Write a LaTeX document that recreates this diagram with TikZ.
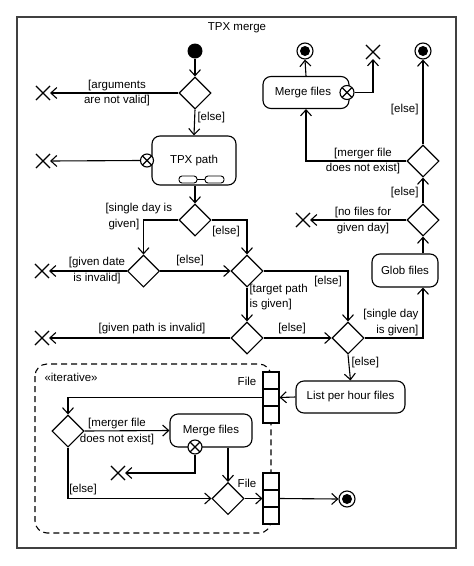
\documentclass[tikz,border=0pt]{standalone}
\usepackage{fontspec}
\setmainfont{Liberation Sans}
\usetikzlibrary{arrows.meta,shapes.geometric,shapes.misc}
\begin{document}
\begin{tikzpicture}[x=1pt,y=-1pt, line width=1.1pt, font=\fontsize{11.5}{15.5}\selectfont,
 dec/.style={diamond, draw, minimum width=32pt, minimum height=32pt, inner sep=0pt},
 act/.style={rectangle, rounded corners=8pt, draw, inner sep=0pt},
 ffinal/.style={cross out, draw, minimum size=13pt, inner sep=0pt},
 afinal/.style={circle, draw, minimum size=16pt, inner sep=0pt, path picture={\fill (path picture bounding box.center) circle (5pt);}},
 epin/.style={circle, draw, fill=white, minimum size=13pt, inner sep=0pt, path picture={\draw (path picture bounding box.north west) -- (path picture bounding box.south east) (path picture bounding box.north east) -- (path picture bounding box.south west);}},
 pincell/.style={rectangle, draw, fill=white, minimum width=16pt, minimum height=17pt, inner sep=0pt},
 arr/.style={-{Straight Barb[length=6pt,width=11pt]}},
 lbl/.style={inner sep=0pt, align=center},
]
\useasboundingbox (0,0) rectangle (474,566);
% frame
\draw[line width=1.4pt, black!75] (17,17) rectangle (456,548);
\node[lbl] (title) at (237,28) {TPX merge};

% nodes
\node[circle, fill, minimum size=15pt, inner sep=0pt] (init) at (195,51) {};
\node[dec] (d1) at (195,93) {};
\node[ffinal] (x1) at (43,93) {};
\node[act, minimum width=84pt, minimum height=49pt] (tpx) at (194,160.5) {TPX path};
\node[epin] (e1) at (147,160.5) {};
\node[ffinal] (x2) at (43,161) {};
\node[dec] (d2) at (195,220) {};
\node[dec] (d3) at (143.5,271) {};
\node[dec] (d4) at (247,271) {};
\node[ffinal] (x3) at (42,271) {};
\node[dec] (d5) at (247,338) {};
\node[dec] (d6) at (348,338) {};
\node[ffinal] (x4) at (42,338) {};
\node[act, minimum width=66pt, minimum height=33pt] (glob) at (405,270.5) {Glob files};
\node[dec] (d7) at (423,220) {};
\node[ffinal] (x5) at (303,220) {};
\node[dec] (d8) at (423,161) {};
\node[act, minimum width=86pt, minimum height=32pt] (mf1) at (306,92.5) {\hspace*{-6pt}Merge files};
\node[epin, minimum size=14pt] (e2) at (347,92.5) {};
\node[ffinal] (x6) at (373,52) {};
\node[afinal] (f1) at (305,51) {};
\node[afinal] (f2) at (423,51) {};
\node[act, minimum width=109pt, minimum height=32pt] (list) at (350.5,397) {List per hour files};

% iterative region
\draw[dashed, dash pattern=on 6pt off 4pt, rounded corners=12pt] (35,364) rectangle (271,533);
\node[lbl, anchor=west] (iter) at (44,377) {«iterative»};

\node[pincell] (p1a) at (271,380.5) {};
\node[pincell] (p1b) at (271,397.5) {};
\node[pincell] (p1c) at (271,414.5) {};
\node[pincell] (p2a) at (271,481.5) {};
\node[pincell] (p2b) at (271,498.5) {};
\node[pincell] (p2c) at (271,515.5) {};
\node[lbl] (file1) at (247,381) {File};
\node[lbl] (file2) at (247,483) {File};

\node[dec] (d9) at (68,431) {};
\node[act, minimum width=82pt, minimum height=33pt] (mf2) at (211,430.5) {Merge files};
\node[epin, minimum size=14pt] (e3) at (195,447) {};
\node[ffinal] (x7) at (118,473) {};
\node[dec] (d10) at (228,498.5) {};
\node[afinal] (f3) at (347,499) {};

% rake icon
\draw[line width=0.9pt, rounded corners=3pt] (179,176) rectangle (197,183);
\draw[line width=0.9pt, rounded corners=3pt] (205,176) rectangle (224,183);
\draw[line width=0.9pt] (197,179.5) -- (205,179.5);

% connectors
\draw[arr] (init) -- (d1.north);
\draw[arr] (d1.west) -- (x1.east);
\node[lbl] at (117,93) {[arguments\\are not valid]};
\draw[arr] (d1.south) -- (tpx.north);
\node[lbl, anchor=west] at (197,118) {[else]};
\draw[arr] (e1.west) -- (x2.east);
\draw[arr] (tpx.south -| d2) -- (d2.north);
\draw[arr] (d2.west) -| (d3.north);
\node[lbl, align=left, anchor=west] at (105,216.5) {[single day is\\\hspace*{3pt}given]};
\draw[arr] (d2.east) -| (d4.north);
\node[lbl] at (226,232) {[else]};
\draw[arr] (d3.west) -- (x3.east);
\node[lbl] at (97,270.5) {[given date\\is invalid]};
\draw[arr] (d3.east) -- (d4.west);
\node[lbl] at (190,261) {[else]};
\draw[arr] (d4.south) -- (d5.north);
\node[lbl, align=left, anchor=west] at (249,297) {[target path\\is given]};
\draw[arr] (d4.east) -| (d6.north);
\node[lbl] at (328,282) {[else]};
\draw[arr] (d5.west) -- (x4.east);
\node[lbl] at (152,329) {[given path is invalid]};
\draw[arr] (d5.east) -- (d6.west);
\node[lbl] at (292,329) {[else]};
\draw[arr] (d6.east) -| (glob.south -| d7.south);
\node[lbl, align=right, anchor=east] at (419,322.5) {[single day\\is given]};
\draw[arr] (glob.north -| d7.south) -- (d7.south);
\draw[arr] (d7.west) -- (x5.east);
\node[lbl] at (363,220.5) {[no files for\\given day]};
\draw[arr] (d7.north) -- (d8.south);
\node[lbl, anchor=east] at (419,193) {[else]};
\draw[arr] (d8.west) -| (mf1.south);
\node[lbl] at (363,161) {[merger file\\does not exist]};
\draw[arr] (d8.north) -- (f2.south);
\node[lbl, anchor=east] at (419,110) {[else]};
\draw[arr] (mf1.north) -- (f1.south);
\draw[arr] (e2.east) -| (x6.south);
\draw[arr] (d6.south) -- (list.north);
\node[lbl, anchor=west] at (351,363) {[else]};
\draw[arr] (list.west) -- (p1b.east);
\draw[arr] (p1b.west) -| (d9.north);
\draw[arr] (d9.east) -- (mf2.west);
\node[lbl] at (117,431.5) {[merger file\\does not exist]};
\draw[arr] (e3.south) |- (x7.east);
\draw[arr] (mf2.south -| d10.north) -- (d10.north);
\draw[arr] (d9.south) |- (d10.west);
\node[lbl] at (83,490) {[else]};
\draw[arr] (d10.east) -- (p2b.west);
\draw[arr] (p2b.east) -- (f3.west);
\end{tikzpicture}
\end{document}
